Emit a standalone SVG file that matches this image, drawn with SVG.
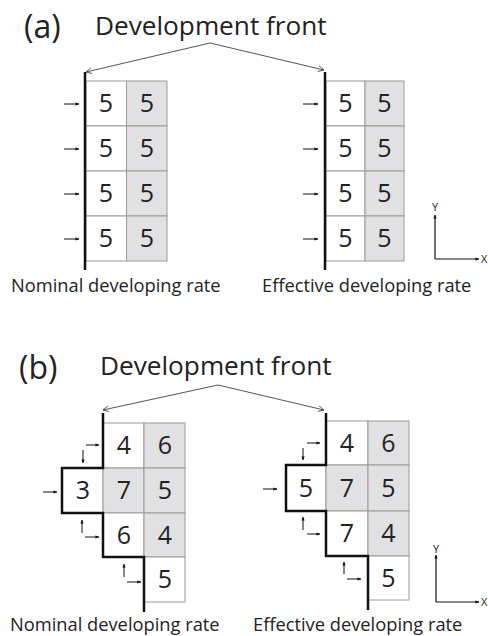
<svg xmlns="http://www.w3.org/2000/svg" width="488" height="636" viewBox="0 0 488 636">
  <defs>
    <marker id="open" viewBox="0 0 10 10" refX="9" refY="5" markerWidth="7" markerHeight="7" markerUnits="userSpaceOnUse" orient="auto">
      <path d="M1,1 L9,5 L1,9" fill="none" stroke="#444" stroke-width="1.2"/>
    </marker>
    <marker id="tip" viewBox="0 0 10 10" refX="9" refY="5" markerWidth="4" markerHeight="4" markerUnits="userSpaceOnUse" orient="auto">
      <path d="M0,1 L10,5 L0,9 Z" fill="#111"/>
    </marker>
  </defs>
  <style>
    .cell { stroke: #9a9a9a; stroke-width: 1; }
    .w { fill: #ffffff; }
    .g { fill: #e1e1e3; }
    .num { font-family: "Open Sans", "Noto Sans", sans-serif; font-size: 25px; fill: #222; text-anchor: middle; }
    .title { font-family: "Open Sans", "Noto Sans", sans-serif; font-size: 26.2px; fill: #222; }
    .panel { font-family: "Open Sans", "Noto Sans", sans-serif; font-size: 32px; fill: #222; }
    .label { font-family: "Open Sans", "Noto Sans", sans-serif; font-size: 18.3px; fill: #222; }
    .axis-label { font-family: "Open Sans", "Noto Sans", sans-serif; font-size: 11px; fill: #222; }
    .front { fill: none; stroke: #111; stroke-width: 2.5; }
    .pointer { fill: none; stroke: #555; stroke-width: 1; marker-end: url(#open); }
    .flow { fill: none; stroke: #111; stroke-width: 1; marker-end: url(#tip); }
    .axis { fill: none; stroke: #111; stroke-width: 1.2; marker-end: url(#tip); }
  </style>

  <!-- Panel (a) -->
  <text class="panel" x="24" y="38">(a)</text>
  <text class="title" x="95" y="35">Development front</text>

  <g id="connectors-a">
    <path class="pointer" d="M210,43 L86,72"/>
    <path class="pointer" d="M210,43 L324,70"/>
    <path class="flow" d="M64,104 H79"/>
    <path class="flow" d="M64,149 H79"/>
    <path class="flow" d="M64,194 H79"/>
    <path class="flow" d="M64,239 H79"/>
    <path class="flow" d="M303,104 H318"/>
    <path class="flow" d="M303,149 H318"/>
    <path class="flow" d="M303,194 H318"/>
    <path class="flow" d="M303,239 H318"/>
    <path class="axis" d="M435,259 V215"/>
    <path class="axis" d="M435,259 H479"/>
  </g>

  <g id="grid-a-nominal">
    <rect class="cell w" x="86" y="81" width="40.5" height="45"/>
    <rect class="cell g" x="126.5" y="81" width="40.5" height="45"/>
    <rect class="cell w" x="86" y="126" width="40.5" height="45"/>
    <rect class="cell g" x="126.5" y="126" width="40.5" height="45"/>
    <rect class="cell w" x="86" y="171" width="40.5" height="45"/>
    <rect class="cell g" x="126.5" y="171" width="40.5" height="45"/>
    <rect class="cell w" x="86" y="216" width="40.5" height="45"/>
    <rect class="cell g" x="126.5" y="216" width="40.5" height="45"/>
    <text class="num" x="106" y="112">5</text>
    <text class="num" x="147" y="112">5</text>
    <text class="num" x="106" y="157">5</text>
    <text class="num" x="147" y="157">5</text>
    <text class="num" x="106" y="202">5</text>
    <text class="num" x="147" y="202">5</text>
    <text class="num" x="106" y="247">5</text>
    <text class="num" x="147" y="247">5</text>
    <path class="front" d="M85,72 V270"/>
  </g>
  <text class="label" x="11" y="292">Nominal developing rate</text>

  <g id="grid-a-effective">
    <rect class="cell w" x="326" y="81" width="39" height="45"/>
    <rect class="cell g" x="365" y="81" width="39" height="45"/>
    <rect class="cell w" x="326" y="126" width="39" height="45"/>
    <rect class="cell g" x="365" y="126" width="39" height="45"/>
    <rect class="cell w" x="326" y="171" width="39" height="45"/>
    <rect class="cell g" x="365" y="171" width="39" height="45"/>
    <rect class="cell w" x="326" y="216" width="39" height="45"/>
    <rect class="cell g" x="365" y="216" width="39" height="45"/>
    <text class="num" x="345.5" y="112">5</text>
    <text class="num" x="384.5" y="112">5</text>
    <text class="num" x="345.5" y="157">5</text>
    <text class="num" x="384.5" y="157">5</text>
    <text class="num" x="345.5" y="202">5</text>
    <text class="num" x="384.5" y="202">5</text>
    <text class="num" x="345.5" y="247">5</text>
    <text class="num" x="384.5" y="247">5</text>
    <path class="front" d="M325,72 V270"/>
  </g>
  <text class="label" x="262" y="292">Effective developing rate</text>

  <g id="axes-a">
    <text class="axis-label" x="435" y="211" text-anchor="middle">Y</text>
    <text class="axis-label" x="481" y="263">X</text>
  </g>

  <!-- Panel (b) -->
  <text class="panel" x="19" y="379">(b)</text>
  <text class="title" x="100" y="375">Development front</text>

  <g id="connectors-b">
    <path class="pointer" d="M218,385 L103,410"/>
    <path class="pointer" d="M218,385 L324,410"/>
    <path class="flow" d="M86,445 H99"/>
    <path class="flow" d="M83,450 V463"/>
    <path class="flow" d="M43,492 H57"/>
    <path class="flow" d="M82,533 V520"/>
    <path class="flow" d="M85,537 H99"/>
    <path class="flow" d="M124,577 V564"/>
    <path class="flow" d="M127,582 H141"/>
    <path class="flow" d="M307,443 H320"/>
    <path class="flow" d="M303,448 V460"/>
    <path class="flow" d="M263,489 H277"/>
    <path class="flow" d="M303,530 V517"/>
    <path class="flow" d="M307,534 H320"/>
    <path class="flow" d="M344,574 V562"/>
    <path class="flow" d="M347,579 H361"/>
    <path class="axis" d="M436,602 V555"/>
    <path class="axis" d="M436,602 H479"/>
  </g>

  <g id="grid-b-nominal">
    <rect class="cell w" x="103" y="423" width="41" height="45"/>
    <rect class="cell g" x="144" y="423" width="41" height="45"/>
    <rect class="cell w" x="62" y="468" width="41" height="45"/>
    <rect class="cell g" x="103" y="468" width="41" height="45"/>
    <rect class="cell g" x="144" y="468" width="41" height="45"/>
    <rect class="cell w" x="103" y="513" width="41" height="44"/>
    <rect class="cell g" x="144" y="513" width="41" height="44"/>
    <rect class="cell w" x="144" y="557" width="41" height="45"/>
    <text class="num" x="124" y="454">4</text>
    <text class="num" x="165" y="454">6</text>
    <text class="num" x="83" y="499">3</text>
    <text class="num" x="124" y="499">7</text>
    <text class="num" x="165" y="499">5</text>
    <text class="num" x="124" y="544">6</text>
    <text class="num" x="165" y="544">4</text>
    <text class="num" x="165" y="588">5</text>
    <path class="front" d="M103,413 V468 H62 V513 H103 V557 H144 V612"/>
  </g>
  <text class="label" x="10" y="631">Nominal developing rate</text>

  <g id="grid-b-effective">
    <rect class="cell w" x="326" y="421" width="42" height="44"/>
    <rect class="cell g" x="368" y="421" width="41" height="44"/>
    <rect class="cell w" x="286" y="465" width="40" height="46"/>
    <rect class="cell g" x="326" y="465" width="42" height="46"/>
    <rect class="cell g" x="368" y="465" width="41" height="46"/>
    <rect class="cell w" x="326" y="511" width="42" height="45"/>
    <rect class="cell g" x="368" y="511" width="41" height="45"/>
    <rect class="cell w" x="368" y="556" width="41" height="44"/>
    <text class="num" x="347" y="452">4</text>
    <text class="num" x="388.5" y="452">6</text>
    <text class="num" x="306" y="497">5</text>
    <text class="num" x="347" y="497">7</text>
    <text class="num" x="388.5" y="497">5</text>
    <text class="num" x="347" y="542">7</text>
    <text class="num" x="388.5" y="542">4</text>
    <text class="num" x="388.5" y="587">5</text>
    <path class="front" d="M326,413 V465 H286 V511 H326 V556 H368 V610"/>
  </g>
  <text class="label" x="253" y="631">Effective developing rate</text>

  <g id="axes-b">
    <text class="axis-label" x="436" y="553" text-anchor="middle">Y</text>
    <text class="axis-label" x="481" y="606">X</text>
  </g>
</svg>
